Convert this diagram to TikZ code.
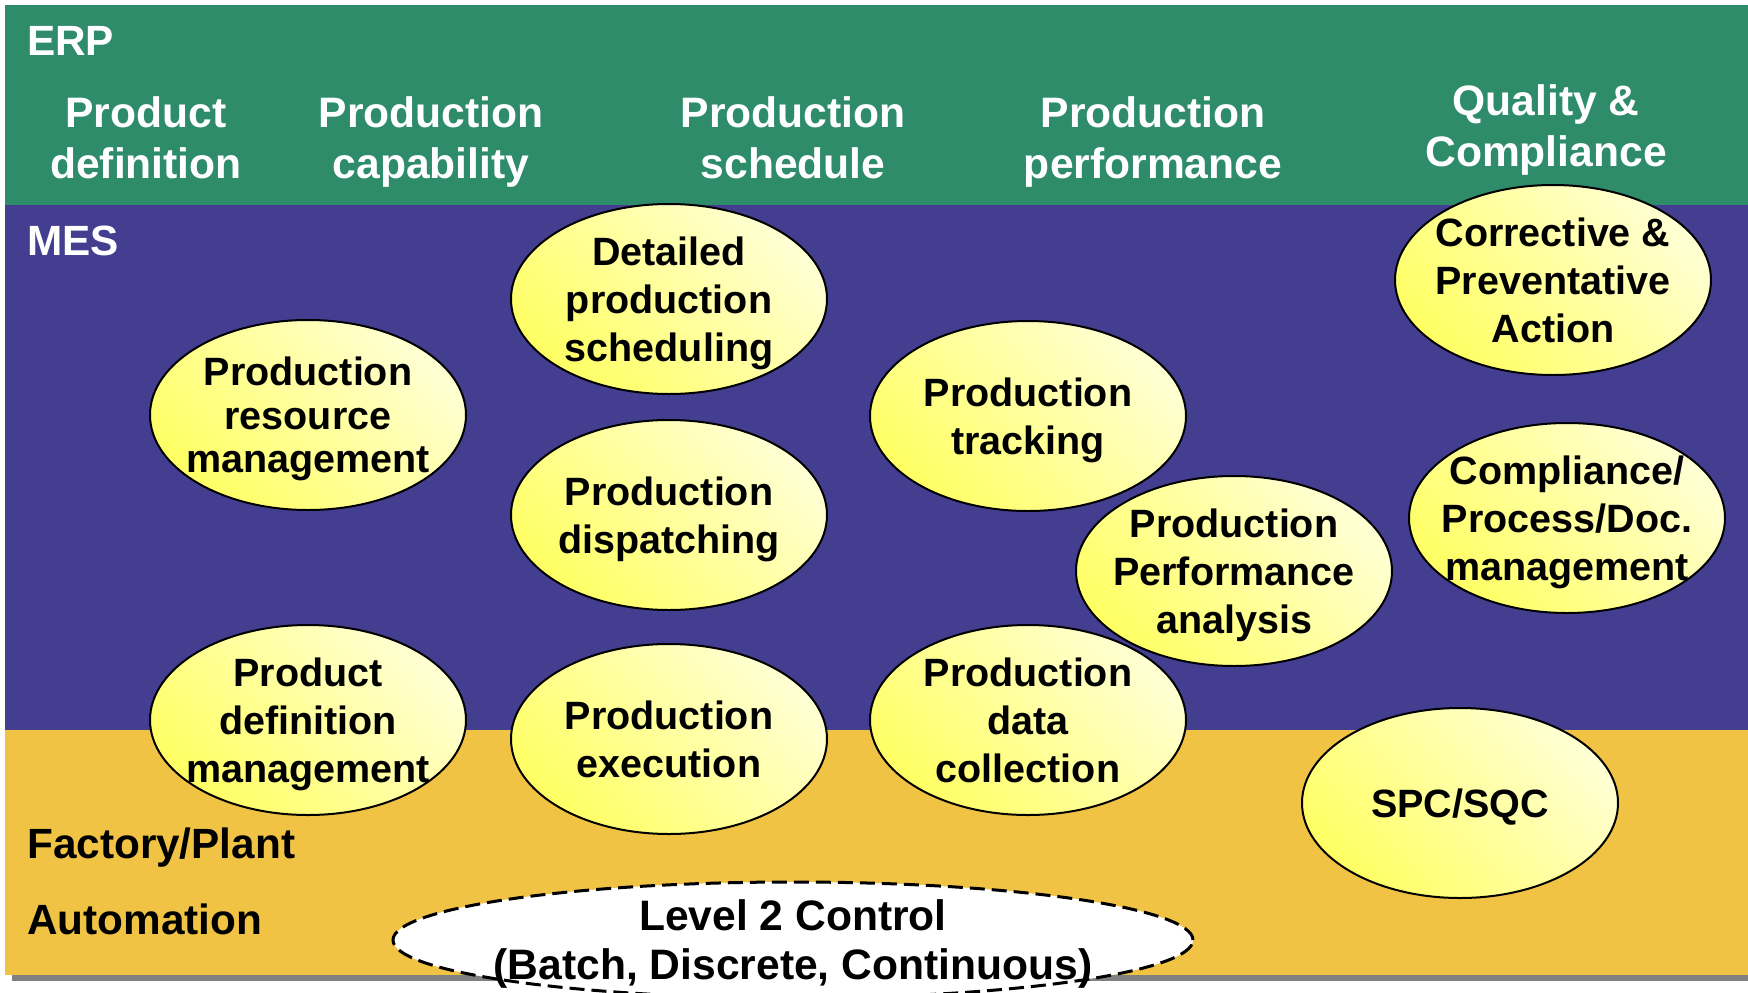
\documentclass[tikz,border=0pt]{standalone}
\usepackage{fontspec}
\setmainfont{Liberation Sans}
\usetikzlibrary{shapes.geometric}
\definecolor{erpgreen}{RGB}{46,140,106}
\definecolor{mespurple}{RGB}{68,62,145}
\definecolor{plantorange}{RGB}{241,195,68}
\definecolor{shadowgray}{RGB}{128,128,128}
\definecolor{ellpale}{RGB}{255,255,212}
\definecolor{ellyellow}{RGB}{255,255,100}
\begin{document}
\begin{tikzpicture}[x=1pt,y=-1pt,
  ell/.style={ellipse, draw=black, line width=2pt, minimum width=316pt, minimum height=190pt, inner sep=0pt, top color=ellpale, bottom color=ellyellow, shading angle=-45},
  etext/.style={align=center, font=\fontsize{39.5}{48}\selectfont\bfseries, inner sep=0pt, text depth=0pt, text=black},
  hdr/.style={align=center, font=\fontsize{42.6}{51}\selectfont\bfseries, text=white, inner sep=0pt, text depth=0pt},
  lbl/.style={anchor=base west, font=\fontsize{42.3}{48}\selectfont\bfseries, inner sep=0pt}]
\useasboundingbox (0,0) rectangle (1748,993);
\clip (0,0) rectangle (1748,993);
\fill[white] (0,0) rectangle (1748,993);
% bands
\fill[shadowgray] (12,730) rectangle (1748,981);
\fill[erpgreen] (5,5) rectangle (1748,205);
\fill[mespurple] (5,205) rectangle (1748,730);
\fill[plantorange] (5,730) rectangle (1748,975);
% band labels
\node[lbl, text=white] (erp) at (27,55) {ERP};
\node[lbl, text=white] (mes) at (27,255) {MES};
\node[lbl, text=black] (fp) at (27,858) {Factory/Plant};
\node[lbl, text=black] (auto) at (27,934) {Automation};
% ERP headers
\node[hdr] (hpd) at (146,138) {Product\\definition};
\node[hdr] (hpc) at (431,138) {Production\\capability};
\node[hdr] (hps) at (793,138) {Production\\schedule};
\node[hdr] (hpp) at (1153,138) {Production\\performance};
\node[hdr] (hqc) at (1546,126) {Quality \&\\Compliance};
% MES ellipses
\node[ell] (sched) at (669,299) {};
\node[etext] (schedt) at (sched) {Detailed\\production\\scheduling};
\node[ell] (res) at (308,415) {};
\node[etext, font=\fontsize{39.5}{43.5}\selectfont\bfseries] (rest) at (res) {Production\\resource\\management};
\node[ell] (track) at (1028,416) {};
\node[etext] (trackt) at (track) {Production\\tracking};
\node[ell] (disp) at (669,515) {};
\node[etext] (dispt) at (disp) {Production\\dispatching};
\node[ell] (capa) at (1553,280) {};
\node[etext] (capat) at (capa) {Corrective \&\\Preventative\\Action};
\node[ell] (comp) at (1567,518) {};
\node[etext] (compt) at (comp) {Compliance/\\Process/Doc.\\management};
\node[ell] (perf) at (1234,571) {};
\node[etext] (perft) at (perf) {Production\\Performance\\analysis};
\node[ell] (pdm) at (308,720) {};
\node[etext] (pdmt) at (pdm) {Product\\definition\\management};
\node[ell] (exec) at (669,739) {};
\node[etext] (exect) at (exec) {Production\\execution};
\node[ell] (pdc) at (1028,720) {};
\node[etext] (pdct) at (pdc) {Production\\data\\collection};
\node[ell] (spc) at (1460,803) {};
\node[etext] (spct) at (spc) {SPC/SQC};
% Level 2 control
\node[ellipse, draw=black, fill=white, line width=3pt, dash pattern=on 15pt off 7pt, minimum width=800pt, minimum height=116pt, inner sep=0pt] (lvl) at (793,940) {};
\node[etext, font=\fontsize{42.6}{49}\selectfont\bfseries] (lvlt) at (lvl) {Level 2 Control\\(Batch, Discrete, Continuous)};
\end{tikzpicture}
\end{document}
